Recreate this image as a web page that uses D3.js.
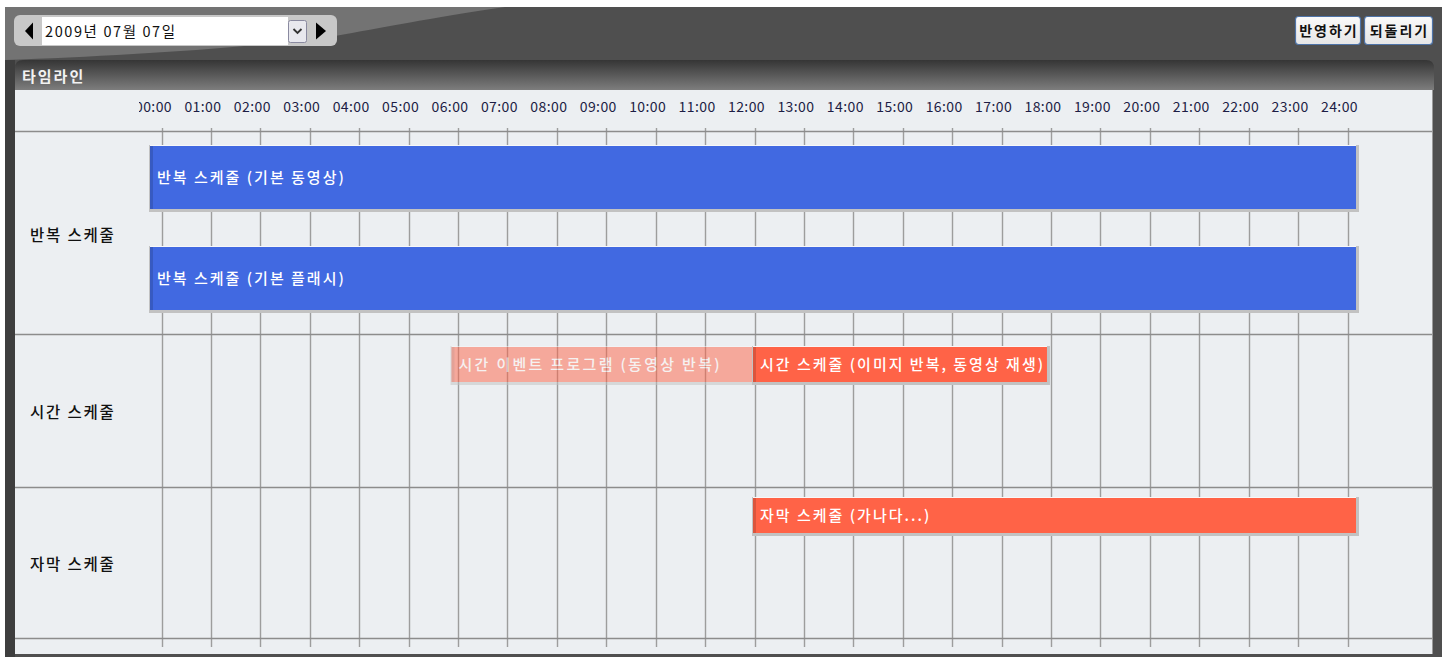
<!DOCTYPE html>
<html><head><meta charset="utf-8">
<script src="https://cdn.jsdelivr.net/npm/d3@7"></script>
<style>
html,body{margin:0;padding:0;background:#fff;}
svg{display:block;}
text{font-family:"Noto Sans CJK KR","Noto Sans",sans-serif;}
</style></head>
<body>
<svg id="chart" width="1449" height="657"></svg>
<script>
// ---- data ----
const dateLabel = "2009년 07월 07일";
const panelTitle = "타임라인";
const buttonLabels = ["반영하기", "되돌리기"];
const tickHours = [0,1,2,3,4,5,6,7,8,9,10,11,12,13,14,15,16,17,18,19,20,21,22,23,24];
const tickLabels = ["00:00","01:00","02:00","03:00","04:00","05:00","06:00","07:00","08:00","09:00","10:00","11:00","12:00","13:00","14:00","15:00","16:00","17:00","18:00","19:00","20:00","21:00","22:00","23:00","24:00"];
const rowNames = ["반복 스케줄", "시간 스케줄", "자막 스케줄"];
const rowLanes = [2, 1, 1];
const barLabels = ["반복 스케줄 (기본 동영상)", "반복 스케줄 (기본 플래시)", "시간 이벤트 프로그램  (동영상 반복)", "시간 스케줄 (이미지 반복, 동영상 재생)", "자막 스케줄 (가나다...)"];
const barRows = [0, 0, 1, 1, 2];
const barLanes = [0, 1, 0, 0, 0];
const barStarts = [0, 0, 6, 12, 12];
const barEnds = [24, 24, 12, 17.85, 24];
const barKinds = ["repeat", "repeat", "inactive", "time", "subtitle"];

// ---- layout ----
const svg = d3.select("#chart");
const gridX = d3.scaleLinear().domain([0, 24]).range([161.5, 1347.5]);
const barX = d3.scaleLinear().domain([0, 24]).range([150, 1356]);
const rowHeights = [203, 153, 151];
const rowBarTop = [15, 13, 11];
const rowBarH = [63, 35, 35];
const rowLaneStep = [101, 0, 0];
const headerBottom = 131;
const rowTops = [headerBottom].concat(Array.from(d3.cumsum(rowHeights), v => v + headerBottom));
const kindFill = {repeat: "#4169e1", inactive: "#ff6347", time: "#ff6347", subtitle: "#ff6347"};
const kindOpacity = {repeat: 1, inactive: 0.5, time: 1, subtitle: 1};
const kindText = {repeat: "#ffffff", inactive: "#fff3f0", time: "#ffffff", subtitle: "#ffffff"};

const defs = svg.append("defs");
const tg = defs.append("linearGradient").attr("id", "titleGrad").attr("x1", 0).attr("y1", 0).attr("x2", 0).attr("y2", 1);
tg.append("stop").attr("offset", "0%").attr("stop-color", "#353535");
tg.append("stop").attr("offset", "100%").attr("stop-color", "#7d7d7d");
const bg = defs.append("linearGradient").attr("id", "btnGrad").attr("x1", 0).attr("y1", 0).attr("x2", 0).attr("y2", 1);
bg.append("stop").attr("offset", "0%").attr("stop-color", "#fafafa");
bg.append("stop").attr("offset", "100%").attr("stop-color", "#e6e6e6");
defs.append("clipPath").attr("id", "tickClip").append("rect").attr("x", 139).attr("y", 90).attr("width", 1294).attr("height", 41);

// frame
svg.append("rect").attr("x", 5).attr("y", 7).attr("width", 1437).attr("height", 650).attr("fill", "#4f4f4f");
svg.append("path").attr("d", "M5,7 L505,7 C430,18 380,28 335,36 C250,48 120,56 5,60 Z").attr("fill", "#737373");

// date picker
svg.append("rect").attr("x", 14).attr("y", 15).attr("width", 323).attr("height", 31).attr("rx", 6).attr("fill", "#c8c8c8");
svg.append("path").attr("d", "M25,31 L33,22.5 L33,39.5 Z").attr("fill", "#000");
svg.append("rect").attr("x", 42).attr("y", 17).attr("width", 246).attr("height", 28).attr("fill", "#fff");
svg.append("text").attr("x", 45).attr("y", 37).attr("font-size", 14.5).attr("letter-spacing", 1.6).attr("fill", "#111").text(dateLabel);
svg.append("rect").attr("x", 288.5).attr("y", 20.5).attr("width", 18).attr("height", 22).attr("rx", 2)
  .attr("fill", "#e8e8ee").attr("stroke", "#8a8aa0");
svg.append("path").attr("d", "M293.5,29 L297.5,33 L301.5,29").attr("fill", "none").attr("stroke", "#333").attr("stroke-width", 1.8);
svg.append("path").attr("d", "M316,22.5 L326,31 L316,39.5 Z").attr("fill", "#000");

// buttons
const btnX = [1295, 1364], btnW = [65, 68];
buttonLabels.forEach((b, i) => {
  svg.append("rect").attr("x", btnX[i] + 0.5).attr("y", 16.5).attr("width", btnW[i]).attr("height", 28).attr("rx", 3)
    .attr("fill", "url(#btnGrad)").attr("stroke", "#4f74a8").attr("stroke-width", 1.2);
  svg.append("text").attr("x", btnX[i] + btnW[i] / 2 + 1.5).attr("y", 36).attr("text-anchor", "middle")
    .attr("font-size", 14).attr("letter-spacing", 2).attr("font-weight", "bold").attr("fill", "#111").text(b);
});

// panel title bar
svg.append("path").attr("d", "M15,90 L15,68 Q15,60 23,60 L1426,60 Q1434,60 1434,68 L1434,90 Z").attr("fill", "url(#titleGrad)");
svg.append("text").attr("x", 22).attr("y", 82).attr("font-size", 15).attr("letter-spacing", 2).attr("font-weight", "bold").attr("fill", "#f2f2f2").text(panelTitle);

// left dark border
svg.append("rect").attr("x", 5).attr("y", 60).attr("width", 10).attr("height", 597).attr("fill", "#3e3e3e");

// content
svg.append("rect").attr("x", 15).attr("y", 90).attr("width", 1418).attr("height", 564).attr("fill", "#eceff2");
svg.append("line").attr("x1", 1432.5).attr("x2", 1432.5).attr("y1", 90).attr("y2", 654).attr("stroke", "#9a9a9a").attr("stroke-width", 1);

// tick labels
svg.append("g").attr("clip-path", "url(#tickClip)").selectAll("text").data(tickHours).join("text")
  .attr("x", d => gridX(d) - 8).attr("y", 112).attr("text-anchor", "middle")
  .attr("font-size", 14).attr("letter-spacing", 0.4).attr("fill", "#1d1d45").text((d, i) => tickLabels[i]);

// vertical grid lines
svg.append("g").selectAll("line").data(tickHours).join("line")
  .attr("x1", d => Math.round(gridX(d)) + 0.5).attr("x2", d => Math.round(gridX(d)) + 0.5)
  .attr("y1", 128).attr("y2", 647).attr("stroke", "#9d9d9d").attr("stroke-width", 1.4);

// horizontal row lines
svg.append("g").selectAll("line").data(rowTops).join("line")
  .attr("x1", 15).attr("x2", 1432).attr("y1", d => d + 0.5).attr("y2", d => d + 0.5)
  .attr("stroke", "#8c8c8c").attr("stroke-width", 1.5);

// row labels
svg.append("g").selectAll("text").data(rowNames).join("text")
  .attr("x", 30).attr("y", (d, i) => (rowTops[i] + rowTops[i + 1]) / 2 + (i === 0 ? 4 : 3))
  .attr("dominant-baseline", "middle").attr("font-size", 15.5).attr("font-weight", 500).attr("letter-spacing", 1.8).attr("fill", "#111").text(d => d);

// bars
const bars = barLabels.map((l, i) => ({
  label: l, row: barRows[i], lane: barLanes[i], s: barStarts[i], e: barEnds[i], kind: barKinds[i]
}));
const barG = svg.append("g");
bars.forEach((b, i) => {
  const x0 = barX(b.s), x1 = barX(b.e);
  const y0 = rowTops[b.row] + rowBarTop[b.row] + b.lane * rowLaneStep[b.row];
  const h = rowBarH[b.row];
  const g = barG.append("g").attr("opacity", kindOpacity[b.kind]);
  g.append("rect").attr("x", x0 - 1).attr("y", y0 - 1).attr("width", x1 - x0 + 4).attr("height", h + 4).attr("fill", "#c2c2c2");
  g.append("rect").attr("x", x0).attr("y", y0 - 1).attr("width", x1 - x0).attr("height", 1).attr("fill", "#f8f8f8");
  g.append("rect").attr("x", x0).attr("y", y0).attr("width", x1 - x0).attr("height", h).attr("fill", kindFill[b.kind]);
  g.append("rect").attr("x", x0).attr("y", y0).attr("width", 3).attr("height", h).attr("fill", "#000").attr("opacity", 0.14);
  const cid = "barClip" + i;
  defs.append("clipPath").attr("id", cid).append("rect").attr("x", x0).attr("y", y0).attr("width", x1 - x0 - 2).attr("height", h);
  g.append("text").attr("clip-path", `url(#${cid})`).attr("x", x0 + 7).attr("y", y0 + h / 2 + 1)
    .attr("dominant-baseline", "middle").attr("font-size", 15).attr("font-weight", 500)
    .attr("letter-spacing", b.kind === "inactive" ? 2.3 : 2).attr("fill", kindText[b.kind]).text(b.label);
});
</script>
</body></html>
